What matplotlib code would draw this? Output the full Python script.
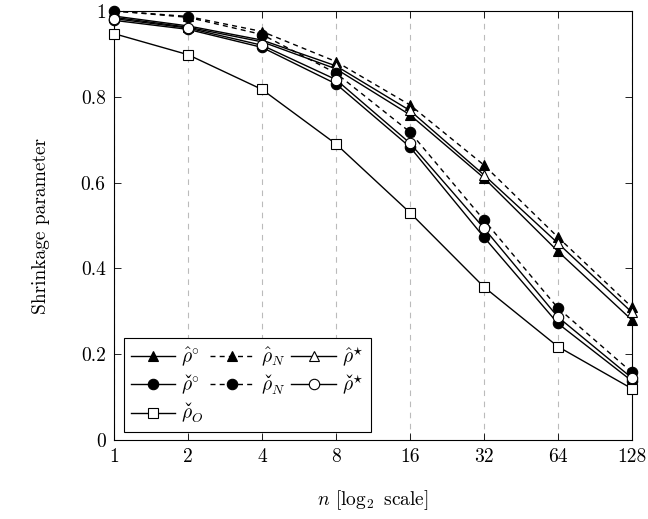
import numpy as np
import matplotlib
matplotlib.use('Agg')
import matplotlib.pyplot as plt
import matplotlib.ticker as mticker
import matplotlib.mathtext as mathtext
from matplotlib import _mathtext, _mathtext_data

plt.rcParams['font.family'] = ['cmr10', 'DejaVu Serif']
plt.rcParams['mathtext.fontset'] = 'cm'
plt.rcParams['axes.formatter.use_mathtext'] = True

# mathtext 没有 \check，在解析器创建前补一个（失败就退回 \breve）
CHECK_CMD = r'\check'
try:
    _mathtext_data.tex2uni.setdefault('combiningcaron', 0x030C)
    _mathtext.Parser._accent_map['check'] = r'\combiningcaron'
    mathtext.MathTextParser('path').parse(r'$\check{\rho}$', prop=None)
except Exception:
    CHECK_CMD = r'\breve'

# ================= 数据 =================
n_vals = [1, 2, 4, 8, 16, 32, 64, 128]

rho_hat_o    = [0.985, 0.962, 0.928, 0.865, 0.758, 0.611, 0.440, 0.280]
rho_hat_N    = [1.000, 0.987, 0.952, 0.882, 0.781, 0.641, 0.473, 0.310]
rho_hat_star = [0.988, 0.965, 0.932, 0.872, 0.768, 0.618, 0.459, 0.298]
rho_chk_o    = [0.978, 0.957, 0.915, 0.830, 0.683, 0.473, 0.272, 0.138]
rho_chk_N    = [1.000, 0.985, 0.945, 0.855, 0.718, 0.513, 0.308, 0.158]
rho_chk_star = [0.982, 0.960, 0.920, 0.840, 0.692, 0.494, 0.287, 0.145]
rho_chk_O    = [0.947, 0.898, 0.817, 0.690, 0.530, 0.357, 0.218, 0.120]

x_ticks  = [1, 2, 4, 8, 16, 32, 64, 128]
y_ticks  = [0, 0.2, 0.4, 0.6, 0.8, 1]

CHK = CHECK_CMD + r'{\rho}'
DASH = (0, (3.6, 3.0))

# ================= 绘图 =================
fig = plt.figure(figsize=(6.48, 5.19), dpi=100)
ax = fig.add_axes([0.176, 0.152, 0.799, 0.827])

series = [
    (rho_hat_o,    r'$\hat{\rho}^{\circ}$', '-',  '^', 'black', 6.5),
    (rho_hat_N,    r'$\hat{\rho}_N$',       DASH, '^', 'black', 6.5),
    (rho_hat_star, r'$\hat{\rho}^{\star}$', '-',  '^', 'white', 6.5),
    (rho_chk_o,    '$' + CHK + r'^{\circ}$', '-',  'o', 'black', 7.5),
    (rho_chk_N,    '$' + CHK + r'_N$',       DASH, 'o', 'black', 7.5),
    (rho_chk_star, '$' + CHK + r'^{\star}$', '-',  'o', 'white', 7.5),
    (rho_chk_O,    '$' + CHK + r'_O$',       '-',  's', 'white', 7.5),
]

lines = []
for ys, lab, ls, mk, fc, ms in series:
    ln, = ax.plot(n_vals, ys, linestyle=ls, color='black', linewidth=1.0,
                  marker=mk, markersize=ms, markerfacecolor=fc,
                  markeredgecolor='black', markeredgewidth=0.8, label=lab,
                  clip_on=False, zorder=3)
    lines.append(ln)

ax.set_xscale('log', base=2)
ax.set_xlim(1, 128)
ax.set_ylim(0, 1)
ax.set_xticks(x_ticks)
ax.xaxis.set_major_formatter(mticker.FixedFormatter([str(v) for v in x_ticks]))
ax.xaxis.set_minor_locator(mticker.NullLocator())
ax.set_yticks(y_ticks)
ax.set_yticklabels(['0', '0.2', '0.4', '0.6', '0.8', '1'])

ax.tick_params(direction='in', top=True, right=True, length=5, width=0.6,
               labelsize=14, pad=6)
for s in ax.spines.values():
    s.set_linewidth(0.8)

ax.grid(True, axis='x', linestyle=(0, (5, 5)), color='#bbbbbb', linewidth=0.8)

ax.set_xlabel(r'$n$ [$\log_2$ scale]', fontsize=14, labelpad=16)
ax.set_ylabel('Shrinkage parameter', fontsize=14, labelpad=22)

# 图例按行排列：matplotlib 按列填充，所以重排顺序
order = [0, 3, 6, 1, 4, 2, 5]
leg = ax.legend([lines[i] for i in order], [series[i][1] for i in order],
                loc='lower left', ncol=3, fontsize=14, frameon=True,
                fancybox=False, edgecolor='black', framealpha=1,
                handlelength=2.3, columnspacing=0.3, handletextpad=0.3,
                labelspacing=0.25, borderpad=0.35, borderaxespad=0,
                bbox_to_anchor=(0.019, 0.019))
leg.get_frame().set_linewidth(0.8)

plt.savefig('out.png', dpi=100)
